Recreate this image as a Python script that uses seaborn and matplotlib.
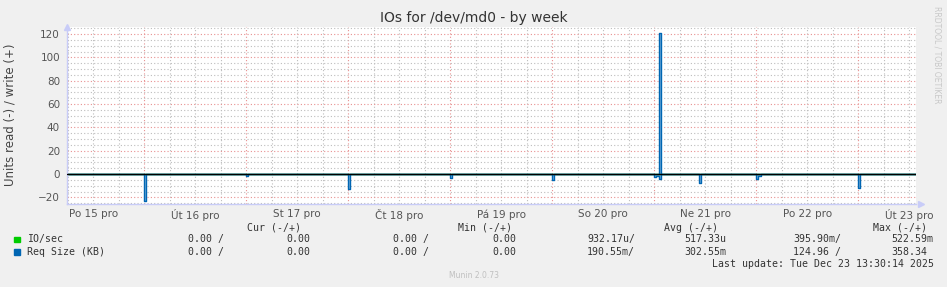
import numpy as np
import pandas as pd
import matplotlib
matplotlib.use("Agg")
import matplotlib.pyplot as plt
import seaborn as sns
from matplotlib.ticker import MultipleLocator, FixedLocator, NullFormatter
from matplotlib.patches import Rectangle

# ---------------- data ----------------
title = "IOs for /dev/md0 - by week"
ylabel = "Units read (-) / write (+)"
day_labels = ["Po 15 pro", "Út 16 pro", "St 17 pro", "Čt 18 pro", "Pá 19 pro",
              "So 20 pro", "Ne 21 pro", "Po 22 pro", "Út 23 pro"]

# samples every 30 minutes, hours since Mon 15 Dec 00:00
first_hour = 6.0
last_hour = 205.5

# Req Size (KB): read is drawn negative, write positive
read_hours = [24.0, 48.0, 72.0, 96.0, 120.0, 144.0, 144.5, 145.0, 154.5, 168.0, 168.5, 192.0]
read_values = [-23, -1.5, -12.5, -3.5, -5, -2.5, -1.5, -4.5, -8, -4.5, -1.5, -11.5]
write_hours = [145.0]
write_values = [121]

legend_names = ["IO/sec", "Req Size (KB)"]
legend_colors = ["#00CC00", "#0066B3"]
col_headers = ["Cur (-/+)", "Min (-/+)", "Avg (-/+)", "Max (-/+)"]
row_io = ["0.00 /", "0.00", "0.00 /", "0.00", "932.17u/", "517.33u", "395.90m/", "522.59m"]
row_req = ["0.00 /", "0.00", "0.00 /", "0.00", "190.55m/", "302.55m", "124.96 /", "358.34"]
last_update = "Last update: Tue Dec 23 13:30:14 2025"
version = "Munin 2.0.73"
watermark = "RRDTOOL / TOBI OETIKER"

# ---------------- build series ----------------
hours = np.arange(first_hour, last_hour + 0.25, 0.5)
df = pd.DataFrame({"day": hours / 24.0, "read": 0.0, "write": 0.0, "io": 0.0})
for h, v in zip(read_hours, read_values):
    df.loc[np.isclose(hours, h), "read"] = v
for h, v in zip(write_hours, write_values):
    df.loc[np.isclose(hours, h), "write"] = v

# ---------------- figure ----------------
W, H = 947, 287
fig = plt.figure(figsize=(W / 100, H / 100), dpi=100, facecolor="#F0F0F0")
sns.set_style("white")
plt.rcParams["font.family"] = ["DejaVu Sans"]

L, R, T, B = 67, 916, 27, 203.5
ax = fig.add_axes([L / W, 1 - B / H, (R - L) / W, (B - T) / H])
ax.set_facecolor("white")

x0 = 0.242
x1 = 8.566
ax.set_xlim(x0, x1)
ax.set_ylim(-25.2, 126)

# grid: vertical
noon_pos = np.arange(0, 9) + 0.5
six_pos = [d + q for d in range(0, 9) for q in (0.25, 0.5, 0.75, 1.0)]
six_pos = [p for p in six_pos if x0 < p < x1]
ax.xaxis.set_major_locator(FixedLocator(noon_pos))
ax.set_xticklabels(day_labels)
ax.xaxis.set_minor_locator(FixedLocator([p for p in six_pos if abs(p - round(p - 0.5) - 0.5) > 1e-6]))
ax.xaxis.set_minor_formatter(NullFormatter())

ax.yaxis.set_major_locator(MultipleLocator(20))
ax.yaxis.set_minor_locator(MultipleLocator(5))

grid_gray = "#BDBDBD"
grid_red = "#E89090"
ax.grid(True, which="both", axis="both", linestyle=(0, (1, 2)), linewidth=0.8, color=grid_gray)
for tk in ax.yaxis.get_major_ticks():
    tk.gridline.set_color(grid_red)
ax.figure.canvas.draw()
for tk, loc in zip(ax.xaxis.get_minor_ticks(), ax.xaxis.get_minorticklocs()):
    if abs(loc - round(loc)) < 1e-6:
        tk.gridline.set_color(grid_red)
        tk.tick1line.set_color(grid_red)

ax.tick_params(axis="both", which="both", colors="#C0C0C0", labelcolor="#555555",
               labelsize=7.5, direction="out")
ax.tick_params(axis="y", which="major", length=3, pad=2)
ax.tick_params(axis="y", which="minor", length=1.5)
ax.tick_params(axis="x", which="major", length=0, pad=4)
ax.tick_params(axis="x", which="minor", length=2)

for s in ["top", "right"]:
    ax.spines[s].set_visible(False)
for s in ["left", "bottom"]:
    ax.spines[s].set_color("#C8CCF8")
    ax.spines[s].set_linewidth(1.0)
ax.plot([0], [1], marker="^", color="#C8CCF8", markersize=5, transform=ax.transAxes, clip_on=False)
ax.plot([1.006], [0], marker=">", color="#C8CCF8", markersize=5, transform=ax.transAxes, clip_on=False)

# series
ax.fill_between(df["day"], 0, df["read"], step="post", color="#7FB3DC", linewidth=0)
ax.fill_between(df["day"], 0, df["write"], step="post", color="#7FB3DC", linewidth=0)
sns.lineplot(data=df, x="day", y="io", ax=ax, color=legend_colors[0], linewidth=1,
             drawstyle="steps-post", legend=False)
sns.lineplot(data=df, x="day", y="read", ax=ax, color=legend_colors[1], linewidth=1,
             drawstyle="steps-post", legend=False)
sns.lineplot(data=df, x="day", y="write", ax=ax, color=legend_colors[1], linewidth=1,
             drawstyle="steps-post", legend=False)
ax.axhline(0, color="black", linewidth=1.0, zorder=5)
ax.set_xlabel("")
ax.set_ylabel("")

# texts
def fx(px):
    return px / W

def fy(py):
    return 1 - py / H

fig.text(fx(474), fy(18), title, ha="center", va="center", fontsize=10, color="#333333")
fig.text(fx(10), fy(115), ylabel, ha="center", va="center", rotation=90, fontsize=8.5, color="#444444")
fig.text(fx(937), fy(6), watermark, ha="center", va="top", rotation=270, fontsize=5.5, color="#C8C8C8")

mono = dict(family="DejaVu Sans Mono", fontsize=7.1, color="#333333", va="center")
for hx, htxt in zip([247, 458, 664, 873], col_headers):
    fig.text(fx(hx), fy(227.7), htxt, ha="left", **mono)

cell_x = [187.7, 286.7, 393, 492, 587, 684, 793, 891]
for ry, name, col, row in zip([239.3, 251.7], legend_names, legend_colors, [row_io, row_req]):
    fig.patches.append(Rectangle((fx(14), fy(ry + 2.8)), 5.5 / W, 5.5 / H,
                                 transform=fig.transFigure, color=col, figure=fig))
    fig.text(fx(26.7), fy(ry), name, ha="left", **mono)
    for cx, txt in zip(cell_x, row):
        fig.text(fx(cx), fy(ry), txt, ha="left", **mono)

fig.text(fx(712), fy(263.7), last_update, ha="left", **mono)
fig.text(fx(474), fy(276), version, ha="center", va="center", fontsize=5.5, color="#C0C0C0")

fig.savefig("out.png", dpi=100, facecolor=fig.get_facecolor())
